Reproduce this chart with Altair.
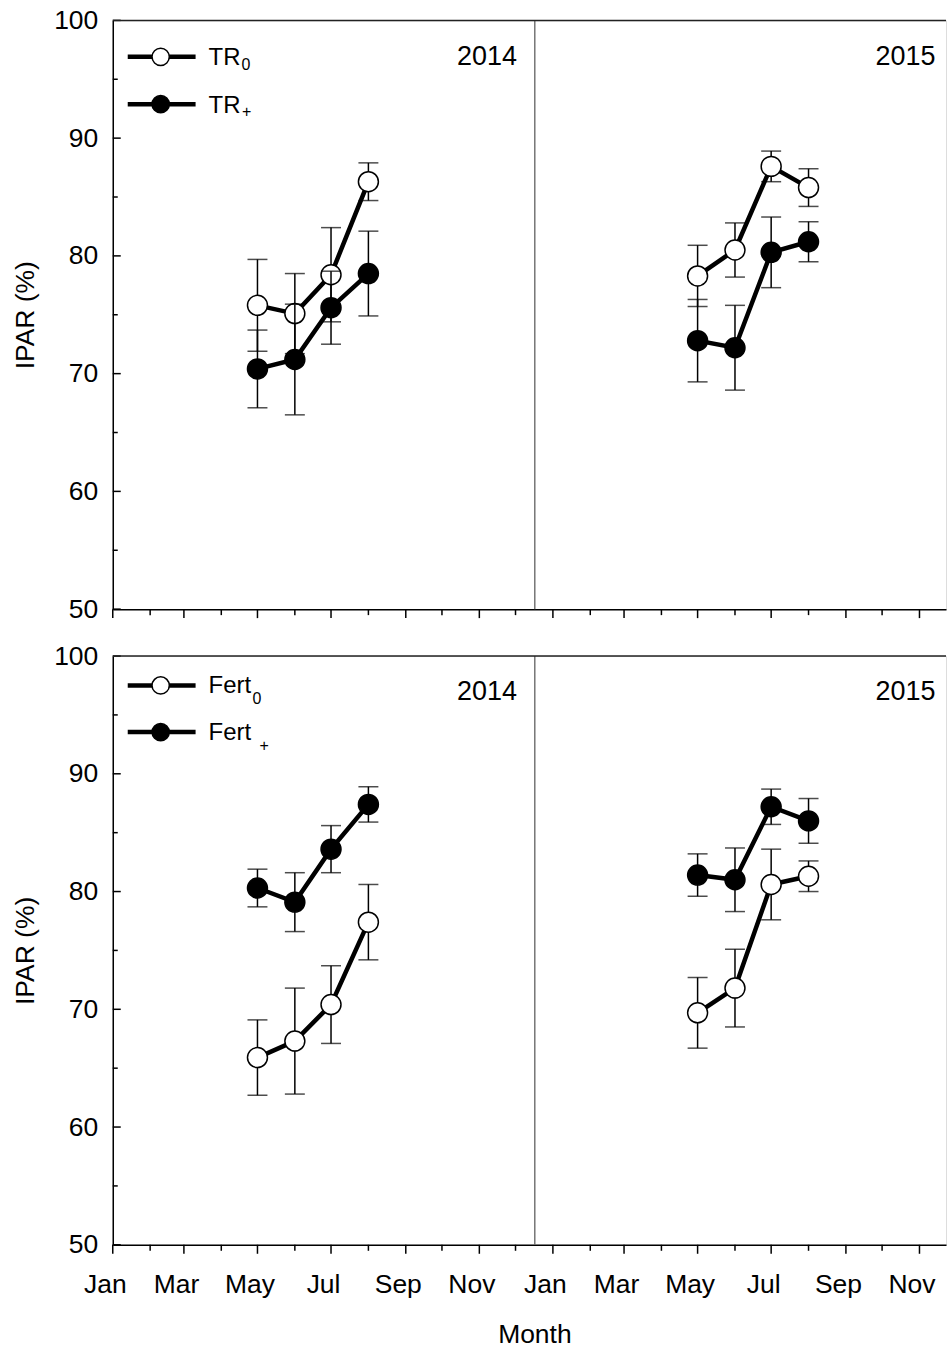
import altair as alt
import pandas as pd

FONT = "Liberation Sans"

# Sampling dates: first day of May-August in each season
DATES_2014 = ["2014-05-01", "2014-06-01", "2014-07-01", "2014-08-01"]
DATES_2015 = ["2015-05-01", "2015-06-01", "2015-07-01", "2015-08-01"]

# Intercepted PAR (%), mean and standard error, 2014 then 2015
TR0_MEAN = [75.8, 75.1, 78.4, 86.3, 78.3, 80.5, 87.6, 85.8]
TR0_SE = [3.9, 3.4, 4.0, 1.6, 2.6, 2.3, 1.3, 1.6]
TRP_MEAN = [70.4, 71.2, 75.6, 78.5, 72.8, 72.2, 80.3, 81.2]
TRP_SE = [3.3, 4.7, 3.1, 3.6, 3.5, 3.6, 3.0, 1.7]

FERT0_MEAN = [65.9, 67.3, 70.4, 77.4, 69.7, 71.8, 80.6, 81.3]
FERT0_SE = [3.2, 4.5, 3.3, 3.2, 3.0, 3.3, 3.0, 1.3]
FERTP_MEAN = [80.3, 79.1, 83.6, 87.4, 81.4, 81.0, 87.2, 86.0]
FERTP_SE = [1.6, 2.5, 2.0, 1.5, 1.8, 2.7, 1.5, 1.9]

# Axis ticks
MAJOR_MONTHS = ["2014-01-01", "2014-03-01", "2014-05-01", "2014-07-01", "2014-09-01",
                "2014-11-01", "2015-01-01", "2015-03-01", "2015-05-01", "2015-07-01",
                "2015-09-01", "2015-11-01"]
MINOR_MONTHS = ["2014-02-01", "2014-04-01", "2014-06-01", "2014-08-01", "2014-10-01",
                "2014-12-01", "2015-02-01", "2015-04-01", "2015-06-01", "2015-08-01",
                "2015-10-01"]
Y_MAJOR = [50, 60, 70, 80, 90, 100]
Y_MINOR = [55, 65, 75, 85, 95]
X_START = "2014-01-01"
X_END = "2015-11-23"
YEAR_SPLIT = ["2014-12-17"]

W = 835
H = 590


def dt(s):
    y, m, d = (int(p) for p in s.split("-"))
    return alt.DateTime(year=y, month=m, date=d)


def series_frame(means, ses):
    dates = pd.to_datetime(DATES_2014 + DATES_2015)
    return pd.DataFrame({
        "date": dates,
        "ipar": means,
        "se": ses,
        "year": [d.year for d in dates],
    })


X_SCALE = alt.Scale(domain=[dt(X_START), dt(X_END)])
Y_SCALE = alt.Scale(domain=[50, 100], nice=False, zero=False)

TXT = dict(labelFont=FONT, labelColor="black", titleFont=FONT, titleColor="black",
           titleFontWeight="normal")

Y_AXIS = alt.Axis(values=Y_MAJOR, ticks=False, grid=False, domain=True,
                  domainColor="black", domainWidth=1.5, labelFontSize=26.5,
                  labelPadding=15, title="IPAR (%)", titleFontSize=26.5,
                  titleX=-73.4, titleY=295, titleAngle=270, titleBaseline="bottom",
                  titleAlign="center", **TXT)

X_AXIS_BOTTOM = alt.Axis(values=[dt(m) for m in MAJOR_MONTHS], format="%b",
                         formatType="time", ticks=False, grid=False, domain=True,
                         domainColor="black", domainWidth=1.5, labelFontSize=26.5,
                         labelPadding=27, labelOffset=-8, labelFlush=False,
                         labelOverlap=False, title="Month", titleFontSize=26.5,
                         titleX=422.5, titleY=98, titleBaseline="alphabetic",
                         titleAlign="center", **TXT)

X_AXIS_TOP = alt.Axis(labels=False, ticks=False, grid=False, domain=True,
                      domainColor="black", domainWidth=1.5, title=None)


def series_layers(df, fill, X, Y):
    bars = alt.Chart(df).mark_errorbar(
        color="black", thickness=1.5,
        ticks={"size": 20, "thickness": 1.5, "color": "black"},
    ).encode(x=X, y=Y, yError="se:Q")
    line = alt.Chart(df).mark_line(color="black", strokeWidth=4.5).encode(
        x=X, y=Y, detail="year:N")
    pts = alt.Chart(df).mark_point(
        shape="circle", size=400, filled=True, fill=fill, stroke="black",
        strokeWidth=1.5, opacity=1).encode(x=X, y=Y)
    return [bars, line, pts]


def legend_layers(entries):
    one = pd.DataFrame({"k": [0]})
    out = []
    for label, sub, fill, y_line, y_text, sub_x, sub_y in entries:
        out.append(alt.Chart(one).mark_rule(color="black", strokeWidth=4.5).encode(
            x=alt.value(15), x2=alt.value(83), y=alt.value(y_line)))
        out.append(alt.Chart(one).mark_point(
            shape="circle", size=300, filled=True, fill=fill, stroke="black",
            strokeWidth=1.5, opacity=1).encode(x=alt.value(48), y=alt.value(y_line)))
        out.append(alt.Chart(one).mark_text(
            align="left", baseline="middle", font=FONT, fontSize=24, color="black"
        ).encode(x=alt.value(96), y=alt.value(y_text), text=alt.value(label)))
        out.append(alt.Chart(one).mark_text(
            align="left", baseline="middle", font=FONT, fontSize=16, color="black"
        ).encode(x=alt.value(sub_x), y=alt.value(sub_y), text=alt.value(sub)))
    return out


def panel(open_df, filled_df, legend_entries, x_axis, anchor):
    X = alt.X("date:T", scale=X_SCALE, axis=x_axis)
    Y = alt.Y("ipar:Q", scale=Y_SCALE, axis=Y_AXIS)
    XT = alt.X("d:T", scale=X_SCALE, axis=x_axis)
    YT = alt.Y("v:Q", scale=Y_SCALE, axis=Y_AXIS)

    major = pd.DataFrame({"d": pd.to_datetime(MAJOR_MONTHS)})
    minor = pd.DataFrame({"d": pd.to_datetime(MINOR_MONTHS)})
    ymaj = pd.DataFrame({"v": Y_MAJOR})
    ymin = pd.DataFrame({"v": Y_MINOR})
    split = pd.DataFrame({"d": pd.to_datetime(YEAR_SPLIT)})
    one = pd.DataFrame({"k": [0]})

    layers = [
        alt.Chart(major).mark_rule(color="black", strokeWidth=1.5).encode(
            x=XT, y=alt.value(H), y2=alt.value(H + 9)),
        alt.Chart(minor).mark_rule(color="black", strokeWidth=1.5).encode(
            x=XT, y=alt.value(H), y2=alt.value(H + 6)),
        alt.Chart(ymaj).mark_rule(color="black", strokeWidth=1.5).encode(
            y=YT, x=alt.value(0), x2=alt.value(8)),
        alt.Chart(ymin).mark_rule(color="black", strokeWidth=1.5).encode(
            y=YT, x=alt.value(0), x2=alt.value(5)),
        alt.Chart(split).mark_rule(color="#606060", strokeWidth=1.3).encode(
            x=XT, y=alt.value(0), y2=alt.value(H)),
        alt.Chart(one).mark_rule(color="#222222", strokeWidth=1.5).encode(
            x=alt.value(0), x2=alt.value(W), y=alt.value(0)),
    ]
    if anchor:
        # invisible rule that pins the plot origin inside the page
        layers.append(alt.Chart(one).mark_rule(strokeOpacity=0, strokeWidth=0).encode(
            x=alt.value(-112), x2=alt.value(0), y=alt.value(-18.5)))
    layers += series_layers(open_df, "white", X, Y)
    layers += series_layers(filled_df, "black", X, Y)
    for label, xr in (("2014", 405), ("2015", 824.5)):
        layers.append(alt.Chart(one).mark_text(
            align="right", baseline="middle", font=FONT, fontSize=27, color="black"
        ).encode(x=alt.value(xr), y=alt.value(36.5), text=alt.value(label)))
    layers += legend_layers(legend_entries)
    return alt.layer(*layers).properties(width=W, height=H)


top = panel(
    series_frame(TR0_MEAN, TR0_SE),
    series_frame(TRP_MEAN, TRP_SE),
    [("TR", "0", "white", 36.5, 37.8, 129, 45),
     ("TR", "+", "black", 84, 85.8, 129.5, 92)],
    X_AXIS_TOP, True)

bottom = panel(
    series_frame(FERT0_MEAN, FERT0_SE),
    series_frame(FERTP_MEAN, FERTP_SE),
    [("Fert", "0", "white", 29.5, 30.5, 140, 43.5),
     ("Fert", "+", "black", 76.2, 77.1, 147, 90.5)],
    X_AXIS_BOTTOM, False)

chart = alt.vconcat(top, bottom, spacing=47, bounds="flush").configure_view(
    stroke=None
).configure(
    padding={"left": 0, "top": 0, "right": 0, "bottom": 0},
    background="white",
    font=FONT,
)

chart.save("out.html", embed_options={"renderer": "svg", "actions": False})
